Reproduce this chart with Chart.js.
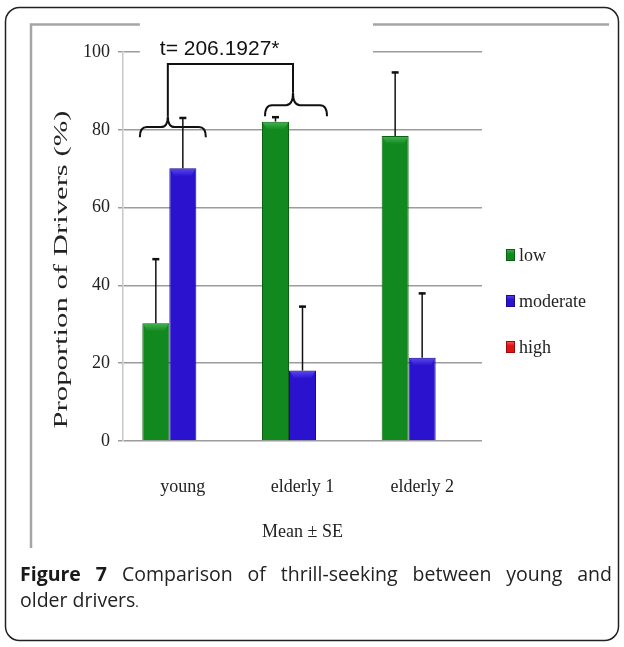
<!DOCTYPE html>
<html>
<head>
<meta charset="utf-8">
<script src="https://cdn.jsdelivr.net/npm/chart.js@4.4.1/dist/chart.umd.min.js"></script>
<style>
html,body{margin:0;padding:0;background:#fff;}
#wrap{position:relative;width:624px;height:647px;overflow:hidden;}
#c{position:absolute;left:0;top:0;}
#cap{position:absolute;left:20px;width:592px;top:561px;font-family:'Open Sans',sans-serif;font-size:19.5px;line-height:26px;color:#222;}
#cap .l1{text-align:justify;text-align-last:justify;white-space:nowrap;}
#cap b{color:#1a1a1a;}
</style>
</head>
<body>
<div id="wrap">
<canvas id="c" width="624" height="647" style="width:624px;height:647px"></canvas>
<div id="cap"><div class="l1"><b>Figure 7</b> Comparison of thrill-seeking between young and</div><div>older drivers<span style="font-size:13px">.</span></div></div>
</div>
<script>
// ---- data ----
const categories = ['young', 'elderly 1', 'elderly 2'];
const seriesNames = ['low', 'moderate', 'high'];
const lowValues = [30.3, 82.1, 78.4];
const moderateValues = [70.1, 18.1, 21.4];
const highValues = [0, 0, 0];
const lowSE = [16.7, 1.4, 16.6];
const moderateSE = [13.2, 16.7, 16.8];
const highSE = [0, 0, 0];
const yTickValues = [0, 20, 40, 60, 80, 100];
const yTitle = 'Proportion of Drivers (%)';
const xTitle = 'Mean \u00B1 SE';
const tLabel = 't= 206.1927*';

const serif = "'Liberation Serif', 'Times New Roman', serif";
const colors = [
  {fill: '#12891f', edge: '#0a6112', hi: '#45b552'},
  {fill: '#2b12cf', edge: '#1a0a8e', hi: '#5a4af0'},
  {fill: '#e01414', edge: '#9a0a0a', hi: '#ff6060'}
];

const framePlugin = {
  id: 'frame',
  beforeDraw(chart) {
    const ctx = chart.ctx;
    ctx.save();
    ctx.fillStyle = '#fff';
    ctx.fillRect(0, 0, chart.width, chart.height);
    // outer rounded border
    ctx.strokeStyle = '#222';
    ctx.lineWidth = 1.5;
    ctx.beginPath();
    ctx.roundRect(5.5, 7.5, 613, 633, 14);
    ctx.stroke();
    // inner grey frame (top and left)
    ctx.strokeStyle = '#a5a5a5';
    ctx.lineWidth = 2.5;
    ctx.beginPath();
    ctx.moveTo(31, 548);
    ctx.lineTo(31, 24.5);
    ctx.lineTo(609, 24.5);
    ctx.stroke();
    ctx.restore();
  },
  beforeDatasetsDraw(chart) {
    // white box behind the annotation text
    const ctx = chart.ctx, xs = chart.scales.x;
    const cx0 = xs.getPixelForValue(0), cx1 = xs.getPixelForValue(1);
    ctx.save();
    ctx.fillStyle = '#fff';
    ctx.fillRect(cx0 - 43, 16, (cx1 + 70.5) - (cx0 - 43), 44);
    ctx.restore();
  },
  afterDatasetsDraw(chart) {
    const ctx = chart.ctx, ys = chart.scales.y;
    ctx.save();
    chart.data.datasets.forEach((ds, i) => {
      const meta = chart.getDatasetMeta(i);
      meta.data.forEach((el, j) => {
        const v = ds.data[j];
        if (!v) return;
        const w = el.width, x0 = el.x - w / 2, top = el.y;
        const h = Math.min(8, el.base - top);
        // bevel highlight on bar top
        const g = ctx.createLinearGradient(0, top, 0, top + h);
        g.addColorStop(0, colors[i].hi);
        g.addColorStop(1, colors[i].fill);
        ctx.fillStyle = g;
        ctx.beginPath();
        ctx.moveTo(x0 + 1, top + 1);
        ctx.lineTo(x0 + w - 1, top + 1);
        ctx.lineTo(x0 + w - 5, top + h);
        ctx.lineTo(x0 + 5, top + h);
        ctx.closePath();
        ctx.fill();
      });
    });
    // error bars
    ctx.strokeStyle = '#111';
    chart.data.datasets.forEach((ds, i) => {
      const meta = chart.getDatasetMeta(i);
      meta.data.forEach((el, j) => {
        const se = ds.se[j];
        if (!se) return;
        const yTop = ys.getPixelForValue(ds.data[j] + se);
        ctx.lineWidth = 1.5;
        ctx.beginPath();
        ctx.moveTo(el.x, el.y);
        ctx.lineTo(el.x, yTop);
        ctx.stroke();
        ctx.lineWidth = 2.5;
        ctx.beginPath();
        ctx.moveTo(el.x - 3.5, yTop + 1);
        ctx.lineTo(el.x + 3.5, yTop + 1);
        ctx.stroke();
      });
    });
    ctx.restore();
  },
  afterDraw(chart) {
    const ctx = chart.ctx, xs = chart.scales.x, ys = chart.scales.y, area = chart.chartArea;
    const cx0 = xs.getPixelForValue(0), cx1 = xs.getPixelForValue(1);
    const p = v => ys.getPixelForValue(v);
    ctx.save();
    // annotation text
    ctx.fillStyle = '#111';
    ctx.font = "21px 'Liberation Sans', Arial, sans-serif";
    ctx.textBaseline = 'alphabetic';
    ctx.textAlign = 'left';
    ctx.fillText(tLabel, cx0 - 23, p(99.2));
    // bracket
    ctx.strokeStyle = '#111';
    ctx.lineWidth = 2;
    ctx.lineJoin = 'miter';
    const lx = cx0 - 15, rx = cx1 - 9.5;
    ctx.beginPath();
    ctx.moveTo(lx, p(83.5));
    ctx.lineTo(lx, p(96.9));
    ctx.lineTo(rx, p(96.9));
    ctx.lineTo(rx, p(89.5));
    ctx.stroke();
    function brace(x0, x1, tipX, yEnd, yMid, yTip) {
      const r = 7;
      ctx.beginPath();
      ctx.moveTo(x0, yEnd);
      ctx.quadraticCurveTo(x0, yMid, x0 + r, yMid);
      ctx.lineTo(tipX - r, yMid);
      ctx.quadraticCurveTo(tipX, yMid, tipX, yTip);
      ctx.quadraticCurveTo(tipX, yMid, tipX + r, yMid);
      ctx.lineTo(x1 - r, yMid);
      ctx.quadraticCurveTo(x1, yMid, x1, yEnd);
      ctx.stroke();
    }
    brace(cx0 - 43, cx0 + 23, lx, p(78.1), p(80.7), p(83.5));
    brace(cx1 - 37.5, cx1 + 24.5, rx, p(83.5), p(86.3), p(89.5));

    // legend
    ctx.font = '18px ' + serif;
    ctx.textBaseline = 'alphabetic';
    chart.data.datasets.forEach((ds, i) => {
      const yc = area.top + 203 + i * 46;
      const mx = area.right + 24;
      const g = ctx.createLinearGradient(0, yc - 6, 0, yc + 6);
      g.addColorStop(0, colors[i].hi);
      g.addColorStop(0.4, colors[i].fill);
      g.addColorStop(1, colors[i].fill);
      ctx.fillStyle = g;
      ctx.fillRect(mx, yc - 6, 9, 12);
      ctx.strokeStyle = colors[i].edge;
      ctx.lineWidth = 1;
      ctx.strokeRect(mx + 0.5, yc - 5.5, 8, 11);
      ctx.fillStyle = '#222';
      ctx.fillText(ds.label, mx + 13, yc + 6);
    });

    // y-axis title (stretched along its length as in the source)
    ctx.font = '18px ' + serif;
    const w0 = ctx.measureText(yTitle).width;
    ctx.translate(67, (area.top + area.bottom) / 2 + 23);
    ctx.rotate(-Math.PI / 2);
    ctx.scale(318 / w0, 1);
    ctx.textAlign = 'center';
    ctx.fillStyle = '#222';
    ctx.fillText(yTitle, 0, 0);
    ctx.restore();
  }
};

new Chart(document.getElementById('c'), {
  type: 'bar',
  data: {
    labels: categories,
    datasets: [
      {label: seriesNames[0], data: lowValues, se: lowSE, backgroundColor: colors[0].fill, borderColor: colors[0].edge, borderWidth: 1},
      {label: seriesNames[1], data: moderateValues, se: moderateSE, backgroundColor: colors[1].fill, borderColor: colors[1].edge, borderWidth: 1},
      {label: seriesNames[2], data: highValues, se: highSE, backgroundColor: colors[2].fill, borderColor: colors[2].edge, borderWidth: 0}
    ]
  },
  options: {
    responsive: false,
    animation: false,
    devicePixelRatio: 1,
    layout: {padding: {left: 20, right: 142, top: 52, bottom: 0}},
    datasets: {bar: {categoryPercentage: 0.677, barPercentage: 1}},
    plugins: {legend: {display: false}, tooltip: {enabled: false}},
    scales: {
      x: {
        grid: {display: false, drawTicks: false},
        border: {display: false},
        ticks: {padding: 35, color: '#222', font: {family: serif, size: 18}},
        title: {display: true, text: xTitle, color: '#222', font: {family: serif, size: 18}, padding: {top: 0, bottom: 104}},
        afterFit: s => { s.height = 206; }
      },
      y: {
        min: 0, max: 100,
        afterBuildTicks: s => { s.ticks = yTickValues.map(v => ({value: v})); },
        ticks: {padding: 8, color: '#222', font: {family: serif, size: 18}},
        grid: {color: '#9c9c9c', lineWidth: 1.5, tickLength: 5},
        border: {color: '#c8c8c8', width: 1.5},
        afterFit: s => { s.width = 103; }
      }
    }
  },
  plugins: [framePlugin]
});
</script>
</body>
</html>
